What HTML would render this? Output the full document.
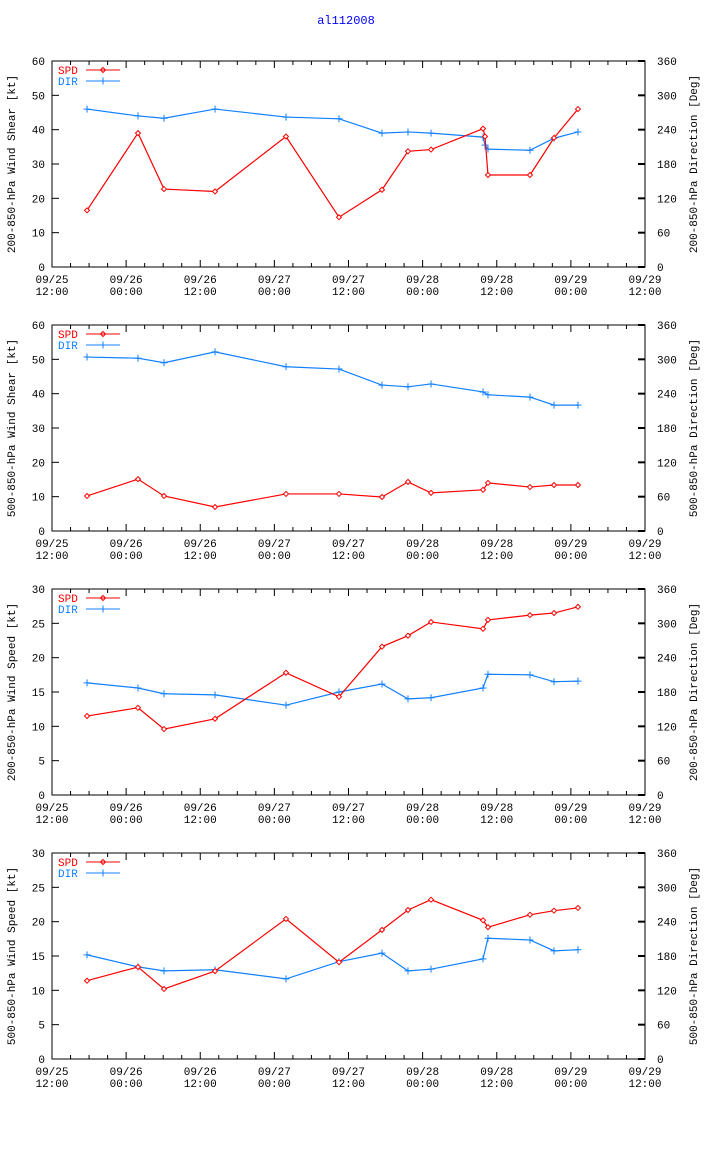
<!DOCTYPE html>
<html><head><meta charset="utf-8"><style>
html,body{margin:0;padding:0;background:#fff;}
svg{display:block;font-family:"Liberation Mono","DejaVu Sans Mono",monospace;font-size:11px;}
</style></head><body>
<svg id="c" width="704" height="1156" viewBox="0 0 704 1156" xmlns="http://www.w3.org/2000/svg">
<text x="346" y="24" fill="#0000ff" text-anchor="middle" font-size="12">al112008</text>
</svg>
<script>
const xTickTop = ["09/25","09/26","09/26","09/27","09/27","09/28","09/28","09/29","09/29"];
const xTickBot = ["12:00","00:00","12:00","00:00","12:00","00:00","12:00","00:00","12:00"];
const dirTicks = [0,60,120,180,240,300,360];
const timesP1 = [5.67,13.92,18.13,26.39,37.88,46.46,53.42,57.63,61.36,69.78,70.1,70.58,77.38,81.27,85.15];
const timesStd = [5.67,13.92,18.13,26.39,37.88,46.46,53.42,57.63,61.36,69.78,70.58,77.38,81.27,85.15];
const spd1 = [16.5,39,22.7,22,38,14.5,22.5,33.7,34.2,40.3,38,26.8,26.8,37.6,46];
const dir1 = [276,264,260,276,262,259,234,236,234,227,213,206,204,225,236];
const spd2 = [10.2,15.1,10.2,7,10.8,10.8,9.9,14.3,11.1,12,14,12.8,13.4,13.4];
const dir2 = [304,302,294,313,287,283,255,252,257,243,238,234,220,220];
const spd3 = [11.5,12.7,9.6,11.1,17.8,14.3,21.6,23.2,25.2,24.2,25.5,26.2,26.5,27.4];
const dir3 = [196,187,177,175,157,180,194,168,170,187,211,210,198,199];
const spd4 = [11.4,13.4,10.2,12.8,20.4,14.1,18.8,21.7,23.2,20.2,19.2,21,21.6,22];
const dir4 = [182,161,154,156,140,170,185,154,157,175,211,208,189,191];

const panels = [
 {top:61, ymax:60, step:10, left:"200-850-hPa Wind Shear [kt]", right:"200-850-hPa Direction [Deg]", t:timesP1, s:spd1, d:dir1},
 {top:325, ymax:60, step:10, left:"500-850-hPa Wind Shear [kt]", right:"500-850-hPa Direction [Deg]", t:timesStd, s:spd2, d:dir2},
 {top:589, ymax:30, step:5, left:"200-850-hPa Wind Speed [kt]", right:"200-850-hPa Direction [Deg]", t:timesStd, s:spd3, d:dir3},
 {top:853, ymax:30, step:5, left:"500-850-hPa Wind Speed [kt]", right:"500-850-hPa Direction [Deg]", t:timesStd, s:spd4, d:dir4}
];
const NS="http://www.w3.org/2000/svg";
const svg=document.getElementById('c');
const X0=52, X1=645, H=206, RED="#ff0000", BLUE="#1080ff";
function mk(tag,attrs,parent){const e=document.createElementNS(NS,tag);for(const k in attrs)e.setAttribute(k,attrs[k]);(parent||svg).appendChild(e);return e;}
const xs=t=>X0+t/96*(X1-X0);
panels.forEach((p,i)=>{
  const g=mk('g',{});
  
  
  const y0=p.top+H;
  const ys=v=>y0-v/p.ymax*H;
  const yd=v=>y0-v/360*H;
  const frame=mk('rect',{x:X0,y:p.top,width:X1-X0,height:H,fill:'none',stroke:'#000','stroke-width':1},g);
  
  
  // x ticks
  for(let h=0;h<=96;h+=3){
    const x=xs(h), L=(h%12===0)?7:4;
    mk('line',{x1:x,y1:y0,x2:x,y2:y0-L,stroke:'#000'},g);
    mk('line',{x1:x,y1:p.top,x2:x,y2:p.top+L,stroke:'#000'},g);
  }
  xTickTop.forEach((lab,k)=>{
    const x=xs(k*12);
    const t=mk('text',{x:x,y:y0+16,'text-anchor':'middle'},g);t.textContent=lab;
    
    
    const t2=mk('text',{x:x,y:y0+28,'text-anchor':'middle'},g);t2.textContent=xTickBot[k];
    
    
  });
  for(let v=0;v<=p.ymax;v+=p.step){
    const y=ys(v);
    mk('line',{x1:X0,y1:y,x2:X0+7,y2:y,stroke:'#000'},g);
    const t=mk('text',{x:45,y:y+4,'text-anchor':'end'},g);t.textContent=v;
    
    
  }
  dirTicks.forEach(v=>{
    const y=yd(v);
    mk('line',{x1:X1,y1:y,x2:X1-7,y2:y,stroke:'#000','stroke-width':2},g);
    const t=mk('text',{x:657,y:y+4},g);t.textContent=v;
    
    
  });
  const cy=p.top+H/2;
  const lt=mk('text',{x:15,y:cy,'text-anchor':'middle',transform:`rotate(-90 15 ${cy})`},g);lt.textContent=p.left;
  
  
  const rt=mk('text',{x:697,y:cy,'text-anchor':'middle',transform:`rotate(-90 697 ${cy})`},g);rt.textContent=p.right;
  
  
  // legend
  const ly1=p.top+9, ly2=p.top+20;
  const l1=mk('text',{x:58,y:ly1+4,fill:RED},g);l1.textContent='SPD';
  
  
  mk('line',{x1:86,y1:ly1,x2:120,y2:ly1,stroke:RED},g);
  mk('path',{d:`M103 ${ly1-2.5}L105.5 ${ly1}L103 ${ly1+2.5}L100.5 ${ly1}Z`,fill:'none',stroke:RED},g);
  const l2=mk('text',{x:58,y:ly2+4,fill:BLUE},g);l2.textContent='DIR';
  
  
  mk('line',{x1:86,y1:ly2,x2:120,y2:ly2,stroke:BLUE},g);
  mk('path',{d:`M103 ${ly2-3.5}V${ly2+3.5}M99.5 ${ly2}H106.5`,stroke:BLUE},g);
  // series
  const dl=mk('polyline',{points:p.t.map((t,k)=>xs(t)+','+yd(p.d[k])).join(' '),fill:'none',stroke:BLUE,'stroke-width':1.2},g);
  
  
  p.t.forEach((t,k)=>{const x=xs(t),y=yd(p.d[k]);
    const m=mk('path',{d:`M${x} ${y-3.5}V${y+3.5}M${x-3.5} ${y}H${x+3.5}`,stroke:BLUE},g);
    
    });
  const sl=mk('polyline',{points:p.t.map((t,k)=>xs(t)+','+ys(p.s[k])).join(' '),fill:'none',stroke:RED,'stroke-width':1.2},g);
  
  
  p.t.forEach((t,k)=>{const x=xs(t),y=ys(p.s[k]);
    const m=mk('path',{d:`M${x} ${y-2.5}L${x+2.5} ${y}L${x} ${y+2.5}L${x-2.5} ${y}Z`,fill:'#fff',stroke:RED},g);
    
    });
});
</script>
</body></html>
